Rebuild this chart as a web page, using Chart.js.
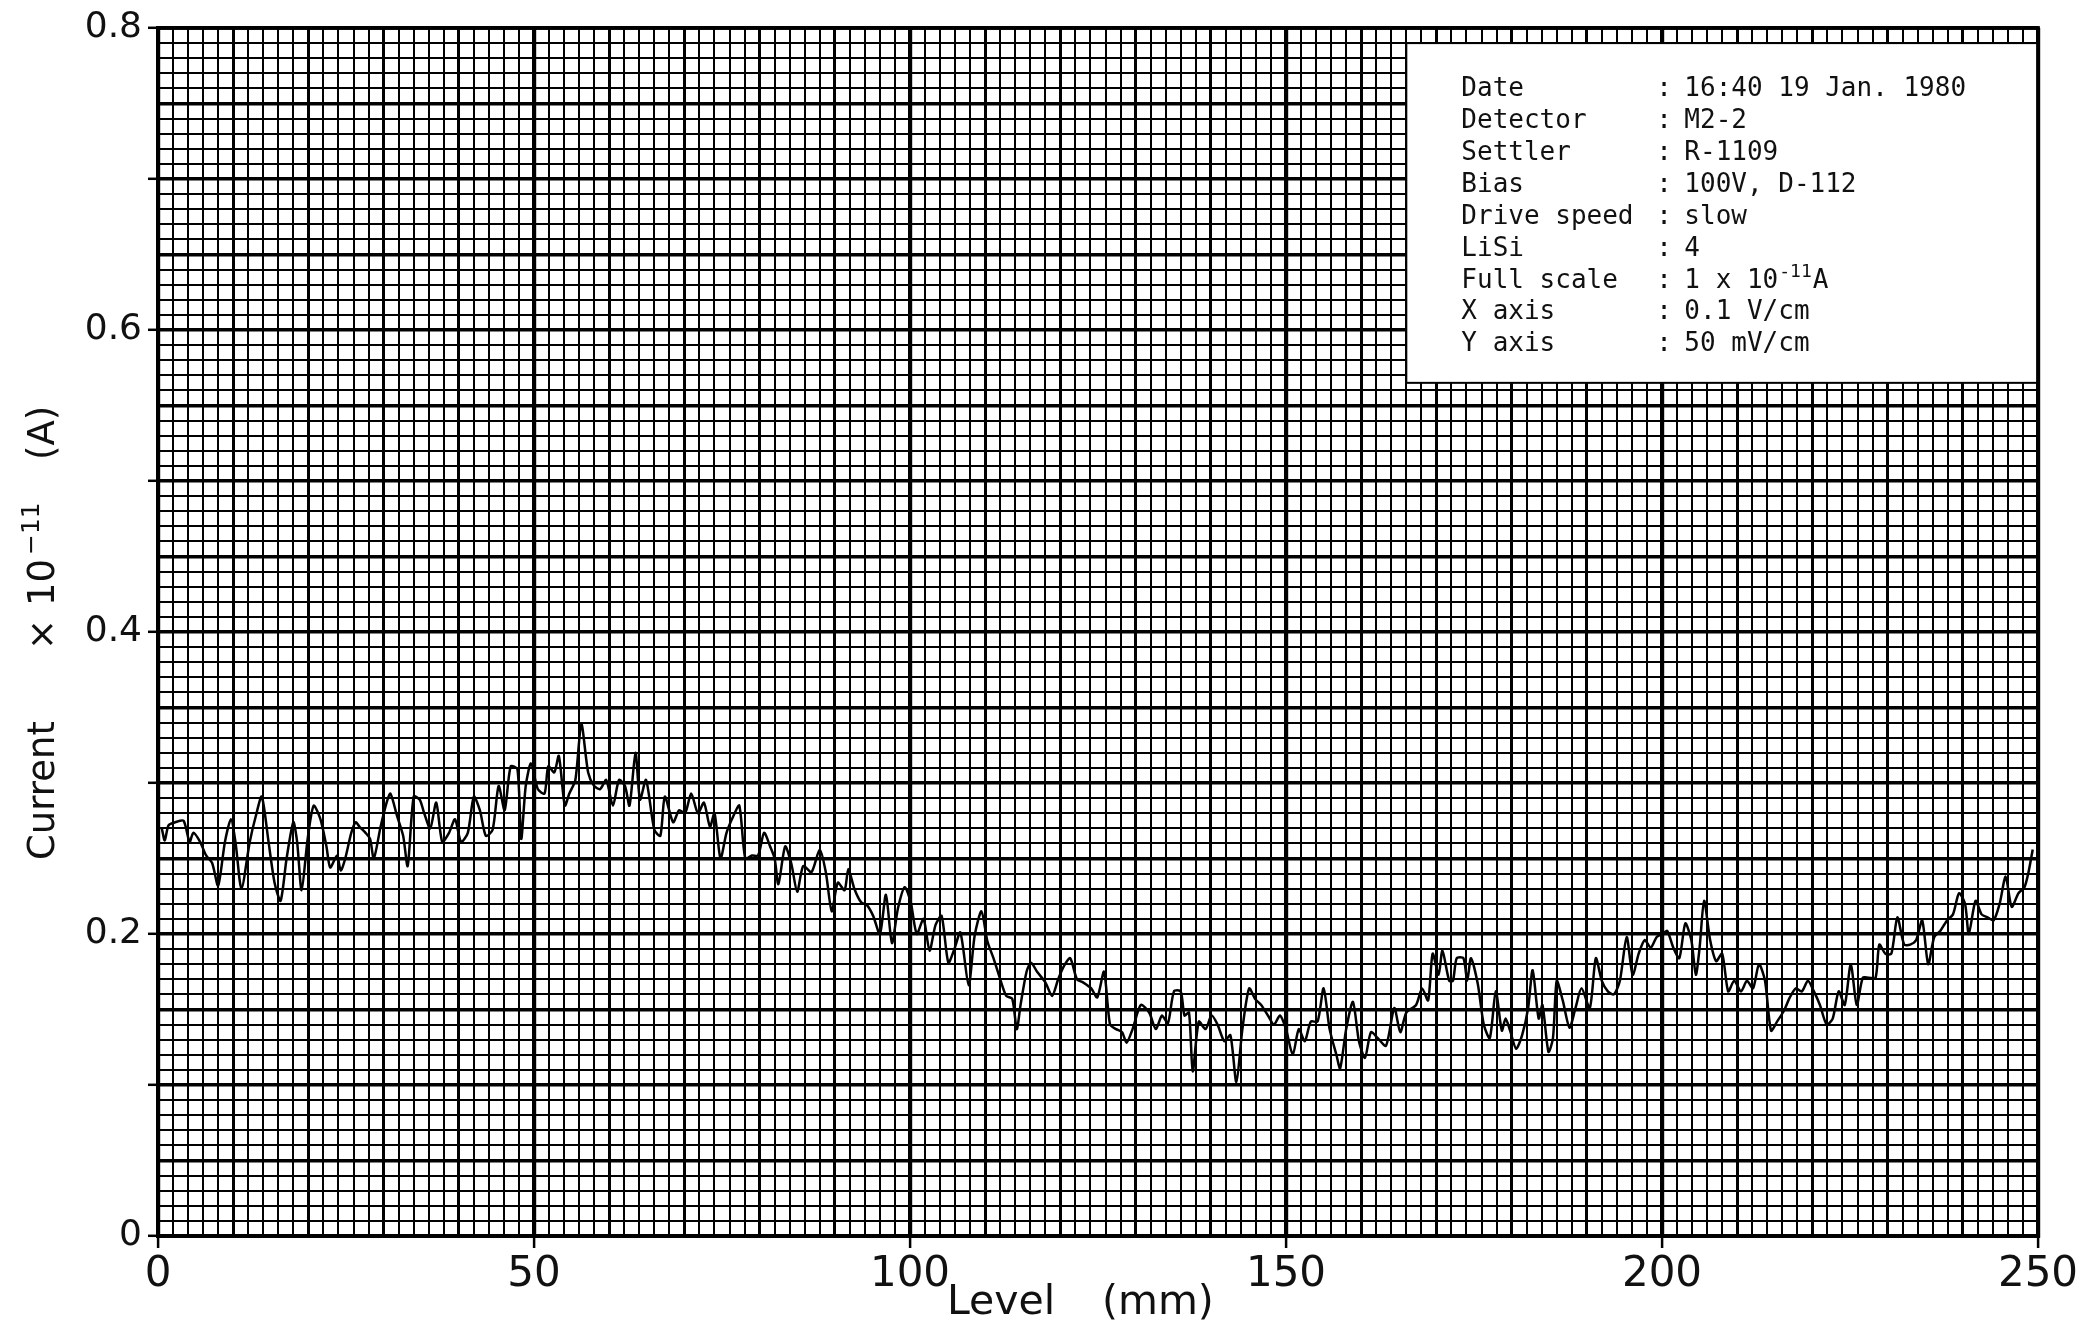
<!DOCTYPE html>
<html>
<head>
<meta charset="utf-8">
<script src="https://cdn.jsdelivr.net/npm/chart.js@4.4.1/dist/chart.umd.min.js"></script>
<style>
html,body{margin:0;padding:0;background:#fff;}
canvas{display:block;}
</style>
</head>
<body>
<canvas id="c" width="2082" height="1327"></canvas>
<script>
// ---- data (Level in mm, Current in 1e-11 A) ----
const levelMmA = [0.5,0.9,1.4,2.3,3.4,4.2,4.7,5.6,6.4,7.2,8.0,8.9,9.7,10.3,11.1,12.2,13.0,13.8,14.7,15.5,16.3,17.1,18.0,18.5,19.1,19.9,20.7,21.6,22.4,22.9,23.8,24.3,24.9,25.7,26.3,26.8,27.6,28.2,28.7,29.6,30.4,30.9,31.8,32.6,33.2,34.0,34.8,35.4,36.2,37.0,37.8,38.7,39.5,40.3,41.2,42.0,42.8,43.6,44.5,45.3,46.1,46.9,47.8,48.3,48.9,49.6,50.5,51.4,51.9,52.7,53.3,54.1,54.7,55.5,56.3,57.2,58.0,58.8,59.6,60.5,61.3,62.1,62.7,63.5,64.1,64.9,66.0,66.8,67.4,68.5,69.3,70.1,70.9,71.8,72.6,73.4,74.0,74.8,75.6,76.5,77.3,78.1,79.0,79.8,80.6,81.4,82.0,82.5,83.4,84.2,85.0];
const currentA = [0.270,0.262,0.272,0.274,0.275,0.261,0.267,0.261,0.252,0.247,0.232,0.261,0.276,0.261,0.230,0.261,0.278,0.291,0.261,0.234,0.222,0.250,0.274,0.261,0.229,0.263,0.285,0.276,0.258,0.244,0.252,0.242,0.250,0.267,0.274,0.271,0.267,0.263,0.250,0.271,0.287,0.293,0.278,0.265,0.245,0.291,0.289,0.280,0.270,0.287,0.261,0.267,0.276,0.261,0.267,0.291,0.282,0.265,0.269,0.298,0.282,0.311,0.309,0.263,0.298,0.313,0.296,0.293,0.311,0.307,0.318,0.285,0.293,0.302,0.339,0.307,0.298,0.296,0.302,0.285,0.302,0.298,0.285,0.320,0.289,0.302,0.269,0.265,0.291,0.274,0.282,0.280,0.293,0.280,0.287,0.271,0.280,0.250,0.267,0.278,0.285,0.250,0.252,0.252,0.267,0.258,0.250,0.233,0.258,0.247,0.228];

const levelMmB = [85.8,86.9,88.0,88.8,89.6,90.4,91.3,91.8,92.6,93.5,94.3,95.1,96.0,96.8,97.6,98.4,99.3,100.1,100.9,101.8,102.6,103.4,104.2,105.1,105.9,106.7,107.8,108.6,109.5,110.3,111.1,112.0,112.8,113.6,114.2,114.7,115.5,116.1,116.9,118.0,118.9,119.7,120.5,121.3,122.2,123.0,124.1,124.9,125.8,126.6,127.4,128.2,128.8,129.6,130.7,131.8,132.7,133.5,134.3,135.1,136.0,136.5,137.1,137.6,138.4,139.3,140.1,140.9,141.8,142.6,143.4,144.2,145.1,145.9,146.7,147.6,148.4,149.2,150.0,150.9,151.7,152.5,153.3,154.2,155.0,155.8,156.7,157.2,158.0,158.9,159.7,160.5,161.3,162.2,163.3,164.4,165.2,166.0];
const currentB = [0.245,0.241,0.256,0.241,0.215,0.234,0.229,0.243,0.230,0.221,0.219,0.212,0.200,0.226,0.194,0.217,0.231,0.221,0.200,0.210,0.189,0.206,0.212,0.181,0.190,0.201,0.166,0.199,0.215,0.195,0.184,0.170,0.159,0.157,0.137,0.153,0.175,0.181,0.175,0.168,0.159,0.170,0.179,0.184,0.170,0.168,0.164,0.158,0.175,0.140,0.137,0.135,0.128,0.137,0.153,0.148,0.137,0.146,0.141,0.162,0.162,0.146,0.148,0.109,0.142,0.137,0.146,0.140,0.129,0.133,0.102,0.137,0.164,0.157,0.153,0.146,0.140,0.146,0.137,0.120,0.137,0.129,0.142,0.142,0.164,0.137,0.120,0.111,0.137,0.155,0.129,0.118,0.135,0.131,0.126,0.151,0.135,0.148];

const levelMmC = [167.3,168.1,168.9,169.5,170.3,170.8,171.7,172.2,172.7,173.6,174.1,174.6,175.5,176.3,177.1,177.9,178.7,179.2,179.8,180.6,181.4,182.2,182.8,183.6,184.1,184.9,185.5,186.0,186.8,187.7,188.5,189.3,190.4,191.2,192.0,192.8,193.6,194.4,195.3,196.1,196.9,197.7,198.5,199.3,200.1,200.7,201.5,202.3,203.1,203.9,204.5,205.0,205.6,206.4,207.2,208.0,208.8,209.6,210.5,211.3,212.1,212.9,213.7,214.5,215.3,216.2,217.0,217.8,218.6,219.4,220.2,221.0,221.9,222.7,223.5,224.3,225.1,225.9,226.7,227.5,228.4,228.9,229.7,230.5,231.3,232.2,233.0,233.8,234.6,235.4,236.2,237.0,237.9,238.7,239.5,240.3,240.8,241.7,242.5,243.3,244.1,244.9,245.7,246.5,247.4,248.2,248.7,249.3];
const currentC = [0.153,0.164,0.156,0.187,0.173,0.189,0.169,0.169,0.184,0.184,0.169,0.184,0.167,0.140,0.131,0.162,0.136,0.144,0.136,0.124,0.133,0.151,0.176,0.144,0.153,0.122,0.131,0.169,0.156,0.138,0.151,0.164,0.151,0.184,0.169,0.162,0.160,0.169,0.198,0.173,0.187,0.196,0.191,0.198,0.200,0.202,0.191,0.184,0.207,0.196,0.173,0.191,0.222,0.196,0.182,0.187,0.162,0.169,0.162,0.169,0.164,0.180,0.169,0.136,0.142,0.149,0.158,0.164,0.162,0.169,0.162,0.153,0.140,0.144,0.162,0.153,0.180,0.153,0.171,0.171,0.171,0.193,0.187,0.187,0.211,0.193,0.193,0.196,0.209,0.180,0.198,0.202,0.209,0.213,0.227,0.220,0.200,0.222,0.213,0.211,0.209,0.220,0.238,0.218,0.227,0.231,0.240,0.256];

const xTickLabels = [0, 50, 100, 150, 200, 250];
const yTickLabels = [0, 0.2, 0.4, 0.6, 0.8];

const infoLabels = ['Date', 'Detector', 'Settler', 'Bias', 'Drive speed', 'LiSi', 'Full scale', 'X axis', 'Y axis'];
const infoValues = ['16:40 19 Jan. 1980', 'M2-2', 'R-1109', '100V, D-112', 'slow', '4', '1 x 10|-11|A', '0.1 V/cm', '50 mV/cm'];

// ---- build points ----
function pairs(xs, ys) {
  const n = Math.min(xs.length, ys.length);
  const out = [];
  for (let i = 0; i < n; i++) out.push({x: xs[i], y: ys[i]});
  return out;
}
const points = [].concat(pairs(levelMmA, currentA), pairs(levelMmB, currentB), pairs(levelMmC, currentC));

const near = (arr, v, eps) => arr.some(t => Math.abs(t - v) < eps);

const framePlugin = {
  id: 'frame',
  beforeDatasetsDraw(chart) {
    const {ctx, chartArea: a, scales: {x, y}} = chart;
    // info box
    const left = x.getPixelForValue(166), right = a.right;
    const top = y.getPixelForValue(0.79), bottom = y.getPixelForValue(0.565);
    ctx.save();
    ctx.fillStyle = '#fff';
    ctx.fillRect(left, top, right - left, bottom - top);
    ctx.strokeStyle = '#000';
    ctx.lineWidth = 2;
    ctx.strokeRect(left, top, right - left, bottom - top);
    ctx.fillStyle = '#111';
    ctx.textBaseline = 'alphabetic';
    const lx = left + 55, cx = left + 250, vx = left + 278;
    for (let i = 0; i < infoLabels.length; i++) {
      const by = top + 53 + i * 31.9;
      ctx.font = '26px "DejaVu Sans Mono"';
      ctx.fillText(infoLabels[i], lx, by);
      ctx.fillText(':', cx, by);
      const parts = infoValues[i].split('|');
      if (parts.length === 3) {
        let px = vx;
        ctx.fillText(parts[0], px, by); px += ctx.measureText(parts[0]).width + 1;
        ctx.font = '18px "DejaVu Sans Mono"';
        ctx.fillText(parts[1], px, by - 11); px += ctx.measureText(parts[1]).width + 1;
        ctx.font = '26px "DejaVu Sans Mono"';
        ctx.fillText(parts[2], px, by);
      } else {
        ctx.fillText(infoValues[i], vx, by);
      }
    }
    ctx.restore();
  },
  afterDraw(chart) {
    const {ctx, chartArea: a} = chart;
    ctx.save();
    ctx.strokeStyle = '#000';
    ctx.lineWidth = 3.8;
    ctx.strokeRect(a.left, a.top, a.right - a.left, a.bottom - a.top);
    // axis titles
    ctx.fillStyle = '#111';
    ctx.textBaseline = 'alphabetic';
    ctx.font = '41px "DejaVu Sans"';
    ctx.fillText('Level', 947, 1314);
    ctx.fillText('(mm)', 1102, 1314);
    // rotated y title
    ctx.translate(54, 0);
    ctx.rotate(-Math.PI / 2);
    const put = (t, yStart, size, raise) => {
      ctx.font = size + 'px "DejaVu Sans"';
      ctx.fillText(t, -yStart, -raise);
    };
    put('Current', 860, 37, 0);
    put('\u00d7', 650, 37, 0);
    put('10', 606, 37, 0);
    put('\u221211', 555, 25, 15);
    put('(A)', 460, 37, 0);
    ctx.restore();
  }
};

new Chart(document.getElementById('c'), {
  type: 'line',
  data: {
    datasets: [{
      data: points,
      borderColor: '#000',
      borderWidth: 2.5,
      pointRadius: 0,
      tension: 0.25,
      fill: false
    }]
  },
  options: {
    responsive: false,
    devicePixelRatio: 1,
    animation: false,
    layout: {padding: {left: 0, right: 44, top: 28, bottom: 0}},
    plugins: {legend: {display: false}, tooltip: {enabled: false}},
    scales: {
      x: {
        type: 'linear',
        min: 0, max: 250,
        afterFit(s) { s.height = 91; },
        border: {display: true, color: '#000', width: 3.8},
        grid: {
          color: '#000',
          lineWidth: c => {
            const v = c.tick ? Math.round(c.tick.value) : 1;
            if (v % 50 === 0) return 4.2;
            if (v % 10 === 0) return 3.0;
            return 2.0;
          },
          drawTicks: true,
          tickLength: 12,
          tickColor: c => (c.tick && near(xTickLabels, c.tick.value, 1e-6)) ? '#000' : 'rgba(0,0,0,0)',
          tickWidth: 2.5
        },
        ticks: {
          stepSize: 2,
          autoSkip: false,
          maxRotation: 0,
          padding: 2,
          color: '#111',
          font: {family: 'DejaVu Sans', size: 42},
          callback: v => near(xTickLabels, v, 1e-6) ? String(Math.round(v)) : ''
        }
      },
      y: {
        type: 'linear',
        min: 0, max: 0.8,
        afterFit(s) { s.width = 158; },
        border: {display: true, color: '#000', width: 3.8},
        grid: {
          color: '#000',
          lineWidth: c => {
            const v = c.tick ? Math.round(c.tick.value * 100) : 1;
            if (v % 5 === 0) return 3.6;
            return 2.0;
          },
          drawTicks: true,
          tickLength: 10,
          tickColor: c => (c.tick && Math.round(c.tick.value * 100) % 10 === 0) ? '#000' : 'rgba(0,0,0,0)',
          tickWidth: 2.5
        },
        ticks: {
          stepSize: 0.01,
          autoSkip: false,
          maxTicksLimit: 1000,
          padding: 6,
          color: '#111',
          font: {family: 'DejaVu Sans', size: 36},
          callback: v => {
            if (!near(yTickLabels, v, 1e-6)) return '';
            const r = Math.round(v * 10) / 10;
            return r === 0 ? '0' : r.toFixed(1);
          }
        }
      }
    }
  },
  plugins: [framePlugin]
});
</script>
</body>
</html>
